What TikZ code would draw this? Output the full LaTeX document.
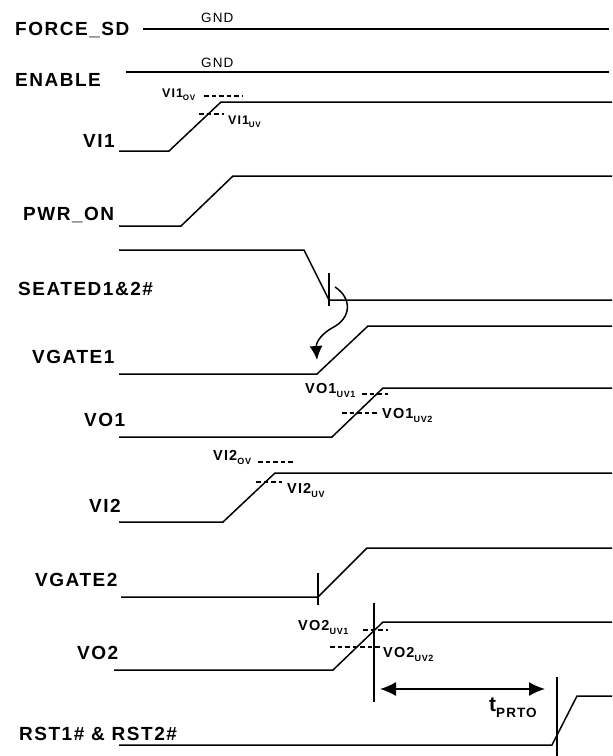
\documentclass[tikz,border=0pt]{standalone}
\usepackage{fontspec}
\setmainfont{Liberation Sans}
\newfontfamily\sigfont[LetterSpace=8]{Liberation Sans}
\usepackage{tikz}
\usetikzlibrary{arrows.meta}
% dropped subscript: size, drop, text
\newcommand{\lsub}[3]{\raisebox{-#2}{\fontsize{#1}{#1}\selectfont #3}}

\begin{document}
\begin{tikzpicture}[x=1pt, y=-1pt,
    sig/.style={font=\sigfont\bfseries\fontsize{19}{21}\selectfont, anchor=base west, inner sep=0pt},
    thr/.style={font=\sigfont\bfseries\fontsize{14.5}{16}\selectfont, anchor=base west, inner sep=0pt},
    thrsmall/.style={font=\sigfont\bfseries\fontsize{12.5}{14}\selectfont, anchor=base west, inner sep=0pt},
    gnd/.style={font=\sigfont\fontsize{13.5}{15}\selectfont, anchor=base west, inner sep=0pt},
    wave/.style={line width=1.5pt, line join=miter},
    lvl/.style={line width=1.2pt, dash pattern=on 4.5pt off 3pt},
    vline/.style={line width=1.2pt}]
  \useasboundingbox (0,0) rectangle (613,756);
  % Signal names on the left
  \node[sig] (nforce) at (15,35)  {FORCE\_SD};
  \node[sig] (nen)    at (15,86)  {ENABLE};
  \node[sig] (nvi1)   at (83,147) {VI1};
  \node[sig] (npwr)   at (23,220) {PWR\_ON};
  \node[sig] (nseat)  at (18,295) {SEATED1\&2\#};
  \node[sig] (ngate1) at (32,363) {VGATE1};
  \node[sig] (nvo1)   at (84,426) {VO1};
  \node[sig] (nvi2)   at (89,512) {VI2};
  \node[sig] (ngate2) at (35,586) {VGATE2};
  \node[sig] (nvo2)   at (77,659) {VO2};
  \node[sig] (nrst)   at (19,740) {RST1\# \& RST2\#};
  % Tied inputs
  \node[gnd] (gnd1) at (201,22) {GND};
  \node[gnd] (gnd2) at (201,67) {GND};
  \draw[wave] (143,29) -- (609,29);
  \draw[wave] (126,72) -- (609,72);
  % Waveforms
  \draw[wave] (119,151) -- (169,151) -- (221,102) -- (612,102);
  \draw[wave] (119,226) -- (181,226) -- (233,176) -- (612,176);
  \draw[wave] (119,250) -- (304,250) -- (329,300) -- (612,300);
  \draw[wave] (119,374) -- (317,374) -- (368,326) -- (612,326);
  \draw[wave] (119,437) -- (332,437) -- (383,388) -- (612,388);
  \draw[wave] (119,522) -- (223,522) -- (275,473) -- (612,473);
  \draw[wave] (121,597) -- (318,597) -- (367,548) -- (612,548);
  \draw[wave] (114,670) -- (333,670) -- (383,622) -- (612,622);
  \draw[wave] (119,745) -- (552,745) -- (577,696) -- (612,696);
  % Thresholds on VI1
  \draw[lvl] (204,96) -- (243,96);
  \node[thrsmall] (vi1ov) at (162,97) {VI1\lsub{8}{3pt}{OV}};
  \draw[lvl] (199,114) -- (224,114);
  \node[thrsmall] (vi1uv) at (228,124) {VI1\lsub{8}{3pt}{UV}};
  % Thresholds on VO1
  \draw[lvl] (362,394) -- (388,394);
  \node[thr] (vo1uv1) at (305,393) {VO1\lsub{9}{4pt}{UV1}};
  \draw[lvl] (342,413) -- (378,413);
  \node[thr] (vo1uv2) at (382,418) {VO1\lsub{9}{4pt}{UV2}};
  % Thresholds on VI2
  \draw[lvl] (258,462) -- (293,462);
  \node[thr] (vi2ov) at (213,460) {VI2\lsub{9}{4pt}{OV}};
  \draw[lvl] (256,482) -- (282,482);
  \node[thr] (vi2uv) at (287,493) {VI2\lsub{9}{4pt}{UV}};
  % Thresholds on VO2
  \draw[lvl] (363,630) -- (388,630);
  \node[thr] (vo2uv1) at (298,630) {VO2\lsub{9}{4pt}{UV1}};
  \draw[lvl] (330,647) -- (380,647);
  \node[thr] (vo2uv2) at (383,657) {VO2\lsub{9}{4pt}{UV2}};
  % Event markers
  \draw[vline] (329,273) -- (329,306);
  \draw[vline] (318,573) -- (318,605);
  \draw[vline] (374,603) -- (374,702);
  \draw[vline] (557,677) -- (557,756);
  % SEATED low starts VGATE1
  \draw[wave, -{Latex[length=14pt,width=13pt]}] (335,287)
    .. controls (352,298) and (352,318) .. (332,328)
    .. controls (318,336) and (316,345) .. (317,360);
  % Reset delay
  \coordinate (tstart) at (380,689);
  \coordinate (tend)   at (545,689);
  \draw[wave, {Latex[length=16pt,width=14pt]}-{Latex[length=16pt,width=14pt]}] (tstart) -- (tend);
  \node[sig, font=\sigfont\bfseries\fontsize{21}{23}\selectfont] (tprto) at (489,711) {t\lsub{13.5}{6pt}{PRTO}};
\end{tikzpicture}
\end{document}
